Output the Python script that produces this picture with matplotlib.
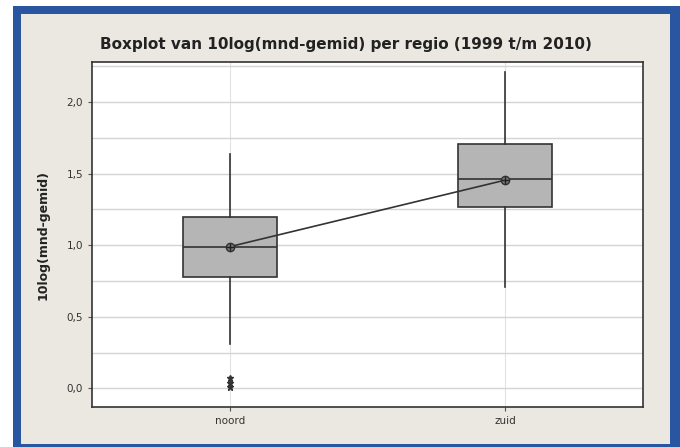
import numpy as np
import matplotlib
matplotlib.use("Agg")
import matplotlib.pyplot as plt
from matplotlib.patches import Rectangle

# samenvatting per regio (10log van maandgemiddelde)
regios = ["noord", "zuid"]
q1 = [0.78, 1.27]
mediaan = [0.99, 1.46]
q3 = [1.20, 1.71]
whisker_laag = [0.31, 0.71]
whisker_hoog = [1.64, 2.21]
gemiddelde = [0.99, 1.455]
uitschieters = [[0.01, 0.04, 0.07], []]

yticks = [0.0, 0.5, 1.0, 1.5, 2.0]
ytick_labels = ["0,0", "0,5", "1,0", "1,5", "2,0"]

achtergrond = "#ebe8e1"
rand = "#2a55a0"

W, H = 680, 447
fig = plt.figure(figsize=(6.8, 4.47), dpi=100, facecolor="white")

# blauwe rand met lichte binnenkant, onder de assen getekend
fig.patches.append(Rectangle((13 / W, 0), (W - 13) / W, (H - 6) / H,
                             transform=fig.transFigure, facecolor=rand,
                             edgecolor="none", zorder=-2))
fig.patches.append(Rectangle((21 / W, 3 / H), 649 / W, 430 / H,
                             transform=fig.transFigure, facecolor=achtergrond,
                             edgecolor="none", zorder=-1))

ax = fig.add_axes([92 / W, 40 / H, 551 / W, 345 / H])
ax.set_facecolor("white")

stats = []
for i, naam in enumerate(regios):
    stats.append({
        "label": naam,
        "q1": q1[i], "med": mediaan[i], "q3": q3[i],
        "whislo": whisker_laag[i], "whishi": whisker_hoog[i],
        "mean": gemiddelde[i], "fliers": uitschieters[i],
    })

posities = np.arange(1, len(regios) + 1)
ax.bxp(stats, positions=posities, widths=0.34, patch_artist=True,
       showcaps=False, showmeans=False,
       boxprops=dict(facecolor="#b5b5b5", edgecolor="#333333", linewidth=1.2),
       medianprops=dict(color="#333333", linewidth=1.2),
       whiskerprops=dict(color="#333333", linewidth=1.2),
       flierprops=dict(marker="*", markersize=5, markerfacecolor="#333333",
                       markeredgecolor="#333333", linestyle="none"),
       zorder=3)

# gemiddelden met verbindingslijn
ax.plot(posities, gemiddelde, color="#333333", linewidth=1.2, zorder=4)
ax.plot(posities, gemiddelde, linestyle="none", marker="o", markersize=6,
        markerfacecolor="#777777", markeredgecolor="#333333", zorder=5)
ax.plot(posities, gemiddelde, linestyle="none", marker="+", markersize=6,
        color="#222222", zorder=6)

ax.set_xlim(0.5, 2.5)
ax.set_ylim(-0.13, 2.28)
ax.set_xticks(posities)
ax.set_xticklabels(regios, fontsize=7.5, color="#333333")
ax.set_yticks(yticks)
ax.set_yticklabels(ytick_labels, fontsize=7.5, color="#333333")
ax.set_yticks(np.arange(0.25, 2.3, 0.5), minor=True)
ax.tick_params(axis="both", direction="out", length=3, color="#555555")
ax.tick_params(axis="y", which="minor", length=0)

ax.grid(axis="y", which="both", color="#d4d4d4", linewidth=1.0, zorder=0)
ax.grid(axis="x", color="#e2e2e2", linewidth=0.8, zorder=0)
ax.set_axisbelow(True)

for s in ax.spines.values():
    s.set_color("#333333")
    s.set_linewidth(1.2)

ax.set_ylabel("10log(mnd-gemid)", fontsize=9, fontweight="bold", color="#222222")
ax.yaxis.set_label_coords(-42 / 551, 0.5)
fig.text(346 / W, 1 - 44 / H,
         "Boxplot van 10log(mnd-gemid) per regio (1999 t/m 2010)",
         ha="center", va="center", fontsize=11, fontweight="bold",
         color="#222222")

fig.savefig("out.png", dpi=100, facecolor="white")
